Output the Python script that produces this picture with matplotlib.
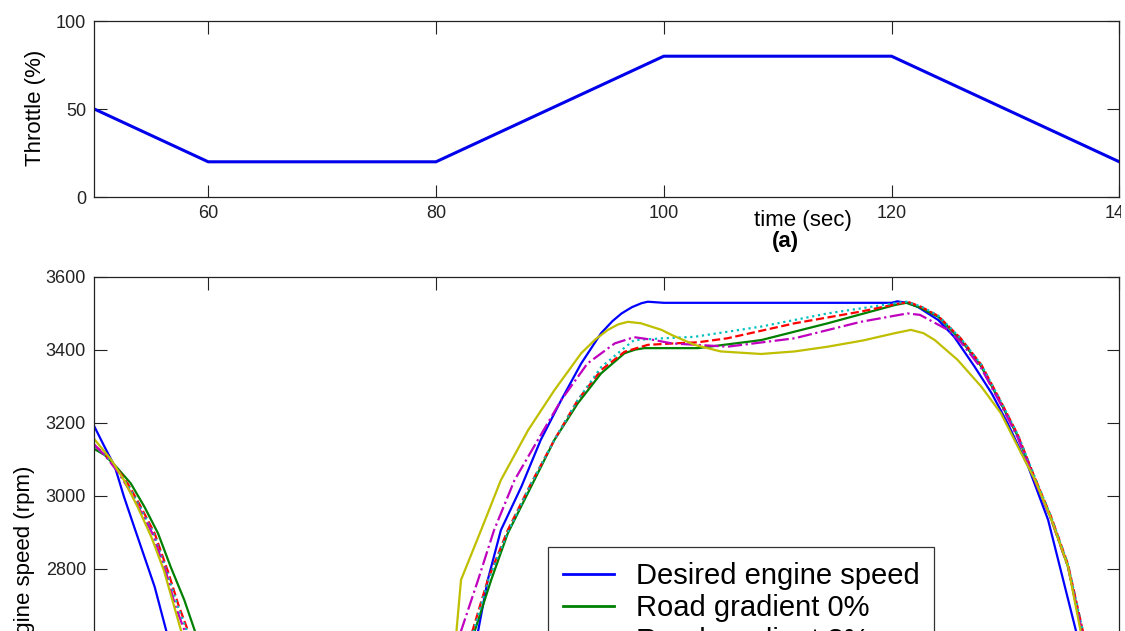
import matplotlib.pyplot as plt
from matplotlib.patches import Rectangle

plt.rcParams['font.family'] = ['Liberation Sans', 'DejaVu Sans']

# throttle profile (a)
thr_t = [50, 60, 80, 100, 120, 140]
thr_pct = [50, 20, 20, 80, 80, 20]

# engine speed (b)
des_t = [50, 50.9, 51.8, 52.6, 53.5, 54.4, 55.3, 56.3, 58, 60, 80, 82, 83.7, 84.55, 85.7, 87.5,
         89.2, 91.0, 92.75, 94.5, 95.5, 96.3, 97.2, 98.05, 98.6, 100, 110, 120, 120.5, 121.4, 122.3,
         124.1, 125.5, 127.3, 128.8, 130.2, 132.0, 133.75, 136.2, 138, 140]
des_rpm = [3190, 3134, 3080, 2998, 2915, 2833, 2751, 2633, 2420, 2200, 2200, 2420, 2630, 2770, 2906, 3025,
           3153, 3262, 3362, 3445, 3478, 3499, 3516, 3527, 3531, 3528, 3528, 3528, 3532, 3528, 3517,
           3481, 3435, 3353, 3280, 3198, 3080, 2934, 2630, 2400, 2200]

g0_t = [50, 50.9, 52.05, 53.2, 54.4, 55.6, 56.7, 57.9, 58.8, 60, 62, 80, 82, 83.4, 84.85, 86.3,
        88.35, 90.4, 92.45, 94.5, 96.55, 97.5, 98.3, 100, 103, 108.55, 114.4, 120.3, 121.3, 122.5,
        124.1, 126.1, 127.9, 129.6, 131.1, 132.6, 134.05, 135.5, 136.7, 138, 140]
g0_rpm = [3128, 3112, 3075, 3034, 2970, 2897, 2806, 2715, 2633, 2500, 2300, 2300, 2450, 2630, 2770, 2897,
          3025, 3153, 3253, 3335, 3390, 3400, 3404, 3404, 3404, 3426, 3472, 3522, 3528, 3515,
          3490, 3426, 3353, 3253, 3162, 3043, 2934, 2806, 2630, 2450, 2250]

g3_t = [50, 51, 52, 53, 54, 55.3, 56.5, 57.4, 58.2, 60, 62, 80, 82, 83.2, 84.55, 86.3, 88.35,
        90.4, 92.45, 94.5, 96.55, 98.6, 100.9, 103, 105.6, 111.5, 117.3, 120.8, 121.5, 122.6, 124.1,
        126.1, 127.9, 129.6, 131.1, 132.6, 134.05, 135.5, 136.8, 138, 140]
g3_rpm = [3138, 3112, 3075, 3030, 2975, 2897, 2790, 2700, 2633, 2430, 2280, 2280, 2450, 2630, 2770, 2906, 3034,
          3153, 3262, 3344, 3394, 3413, 3417, 3420, 3431, 3472, 3504, 3527, 3530, 3517, 3492,
          3430, 3358, 3258, 3166, 3048, 2940, 2812, 2630, 2460, 2260]

g6_t = [50, 51, 52, 53, 54, 55.2, 56.4, 57.3, 58.1, 60, 62, 80, 82, 83.3, 84.6, 86.3, 88.3,
        90.4, 92.45, 94.5, 96.55, 97.4, 100, 102.7, 108.55, 114.4, 120.3, 121.3, 122.6, 124.1,
        126.1, 127.9, 129.6, 131.1, 132.6, 134.05, 135.5, 136.8, 138, 140]
g6_rpm = [3135, 3110, 3072, 3026, 2970, 2897, 2790, 2700, 2633, 2420, 2270, 2270, 2450, 2630, 2770, 2900, 3030,
          3153, 3262, 3352, 3405, 3426, 3431, 3435, 3463, 3499, 3527, 3531, 3518, 3493,
          3430, 3358, 3258, 3167, 3050, 2940, 2812, 2630, 2460, 2260]

g9_t = [50, 51, 52, 53, 54, 55.1, 56.3, 57.1, 57.9, 60, 62, 80, 81.5, 82.2, 83.7, 85.1, 86.9,
        88.95, 91.0, 93.3, 95.7, 97.4, 99.2, 100.7, 105.6, 111.5, 117.3, 121.4, 122.5, 124.95, 126.1,
        127.9, 129.6, 131.1, 132.6, 134.05, 135.5, 136.7, 138, 140]
g9_rpm = [3140, 3108, 3068, 3020, 2962, 2897, 2790, 2700, 2633, 2410, 2260, 2260, 2500, 2630, 2770, 2906, 3043,
          3153, 3262, 3362, 3417, 3434, 3426, 3417, 3408, 3431, 3476, 3499, 3495, 3454, 3420,
          3348, 3250, 3158, 3040, 2932, 2804, 2630, 2450, 2250]

g12_t = [50, 51.5, 52.6, 53.8, 55.0, 56.1, 57.6, 60, 62, 80, 81.5, 81.8, 82.2, 83.96, 85.7, 88.1,
         90.4, 92.75, 94.0, 95.1, 96.0, 96.85, 98.0, 99.8, 100.7, 102.7, 105, 108.55, 111.5, 114.4,
         117.5, 120.3, 121.7, 122.8, 123.8, 125.8, 127.9, 129.6, 131.1, 132.6, 134.05, 135.5, 136.6,
         138, 140]
g12_rpm = [3155, 3098, 3043, 2970, 2888, 2797, 2633, 2350, 2200, 2250, 2500, 2630, 2770, 2906, 3043, 3180,
           3289, 3390, 3428, 3454, 3469, 3476, 3472, 3454, 3440, 3413, 3395, 3388, 3395, 3408,
           3425, 3445, 3454, 3445, 3426, 3372, 3298, 3226, 3134, 3043, 2934, 2806, 2630,
           2440, 2240]

series = [
    ("Desired engine speed", des_t, des_rpm, (0, 0, 1), '-'),
    ("Road gradient 0%", g0_t, g0_rpm, (0, 0.5, 0), '-'),
    ("Road gradient 3%", g3_t, g3_rpm, (1, 0, 0), '--'),
    ("Road gradient 6%", g6_t, g6_rpm, (0, 0.75, 0.75), ':'),
    ("Road gradient 9%", g9_t, g9_rpm, (0.75, 0, 0.75), '-.'),
    ("Road gradient 12%", g12_t, g12_rpm, (0.75, 0.75, 0), '-'),
]

W, H = 1125, 631
fig = plt.figure(figsize=(W / 100, H / 100), dpi=100)

x0, x1 = 94.3, 1119.3
ax1 = fig.add_axes([x0 / W, 1 - 197 / H, (x1 - x0) / W, 176 / H])
y_top2 = 276.5
px_per_rpm = 0.3655
ax2 = fig.add_axes([x0 / W, 1 - (y_top2 + 1600 * px_per_rpm) / H, (x1 - x0) / W, 1600 * px_per_rpm / H])

for ax in (ax1, ax2):
    ax.set_xlim(50, 140)
    ax.set_xticks([60, 80, 100, 120, 140])
    ax.tick_params(direction='in', length=9, width=0.8, top=True, right=True,
                   labelsize=13, pad=6, colors='#222222')
    for s in ax.spines.values():
        s.set_linewidth(0.9)
        s.set_color('#222222')

ax1.plot(thr_t, thr_pct, color=(0, 0, 0.92), lw=2.2)
ax1.set_ylim(0, 100)
ax1.set_yticks([0, 50, 100])
ax1.set_ylabel("Throttle (%)", fontsize=16)
ax1.yaxis.set_label_coords(46 / W, 1 - 107.5 / H, transform=fig.transFigure)
ax1.text(803 / W, 1 - 226 / H, "time (sec)", transform=fig.transFigure,
         ha='center', va='baseline', fontsize=16)
ax1.text(785 / W, 1 - 241 / H, "(a)", transform=fig.transFigure,
         ha='center', va='center', fontsize=16, fontweight='bold')

for label, t, rpm, c, ls in series:
    ax2.plot(t, rpm, color=c, ls=ls, lw=1.6, label=label)
ax2.set_ylim(2000, 3600)
ax2.set_yticks([2800, 3000, 3200, 3400, 3600])
# lower part of panel (b), with its time axis, lies outside the cropped picture
ax2.tick_params(labelbottom=False)
ax2.set_ylabel("Engine speed (rpm)", fontsize=16)
ax2.yaxis.set_label_coords(35 / W, 1 - 563 / H, transform=fig.transFigure)

leg = ax2.legend(loc='upper left', bbox_to_anchor=(548.3 / W, 1 - 547.3 / H),
                 bbox_transform=fig.transFigure, borderaxespad=0, fontsize=21,
                 handlelength=1.75, handletextpad=0.75, borderpad=0.5, labelspacing=0.15,
                 fancybox=False, framealpha=1, edgecolor='#333333')
leg.get_frame().set_linewidth(0.9)
for line in leg.get_lines():
    line.set_linewidth(2)

# the source image is cut just right of the 140 tick
fig.add_artist(Rectangle((1121 / W, 0), 1, 1, transform=fig.transFigure,
                         facecolor='white', edgecolor='none', zorder=10))

fig.savefig("out.png", dpi=100)
